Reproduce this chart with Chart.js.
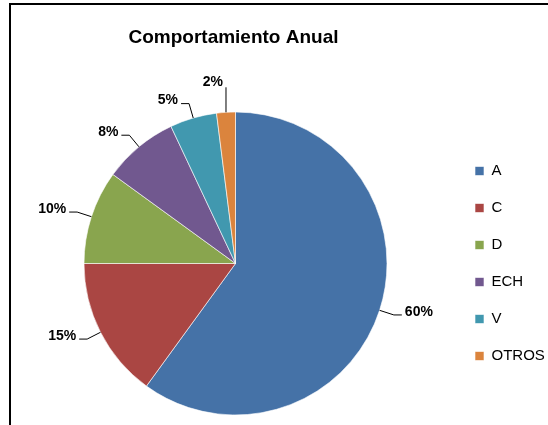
<!DOCTYPE html>
<html lang="es">
<head>
    <meta charset="UTF-8">
    <title>Comportamiento Anual</title>
    <style>
body {
    margin: 0;
    padding: 0;
    background-color: #fff;
    overflow: hidden;
}

#frame {
    position: absolute;
    left: 9px;
    top: 3px;
    width: 700px;
    height: 600px;
    border-top: 2px solid #000;
    border-left: 2px solid #000;
}

#chart-container {
    position: absolute;
    left: 0;
    top: 0;
    width: 548px;
    height: 425px;
}
    </style>
</head>
<body>
    <div id="frame"></div>
    <div id="chart-container">
        <canvas id="pieChart" width="548" height="425"></canvas>
    </div>

    <script src="https://cdn.jsdelivr.net/npm/chart.js"></script>
    <script>
        // Chart data
        const chartTitle = 'Comportamiento Anual';
        const categories = ['A', 'C', 'D', 'ECH', 'V', 'OTROS'];
        const values = [60, 15, 10, 8, 5, 2];
        const colors = ['#4572A7', '#AA4643', '#89A54E', '#71588F', '#4198AF', '#DB843D'];

        const FONT = "Arial, 'Liberation Sans', sans-serif";

        // Title drawn above the pie
        const titlePlugin = {
            id: 'pieTitle',
            afterDraw(chart) {
                const ctx = chart.ctx;
                const area = chart.chartArea;
                ctx.save();
                ctx.font = 'bold 19px ' + FONT;
                ctx.fillStyle = '#000';
                ctx.textAlign = 'center';
                ctx.textBaseline = 'middle';
                ctx.fillText(chartTitle, (area.left + area.right) / 2 - 2, 38);
                ctx.restore();
            }
        };

        // Percent labels with leader lines
        const leaderLabels = {
            id: 'leaderLabels',
            afterDatasetsDraw(chart) {
                const ctx = chart.ctx;
                const meta = chart.getDatasetMeta(0);
                const data = chart.data.datasets[0].data;
                const total = data.reduce((a, b) => a + b, 0);
                ctx.save();
                ctx.font = 'bold 14px ' + FONT;
                ctx.fillStyle = '#000';
                ctx.strokeStyle = '#000';
                ctx.lineWidth = 1;
                ctx.textBaseline = 'middle';
                meta.data.forEach((arc, i) => {
                    const mid = (arc.startAngle + arc.endAngle) / 2;
                    const cos = Math.cos(mid), sin = Math.sin(mid);
                    const r = arc.outerRadius;
                    const text = Math.round(data[i] / total * 100) + '%';
                    const x0 = arc.x + cos * r, y0 = arc.y + sin * r;
                    ctx.beginPath();
                    ctx.moveTo(x0, y0);
                    if (Math.abs(cos) < 0.15) {
                        // thin slice near the top: straight up
                        const y1 = y0 - 25;
                        ctx.lineTo(x0, y1);
                        ctx.stroke();
                        ctx.textAlign = 'right';
                        ctx.fillText(text, x0 - 3, y1 - 5);
                        return;
                    }
                    const x1 = arc.x + cos * (r + 15), y1 = arc.y + sin * (r + 15);
                    const dir = cos >= 0 ? 1 : -1;
                    const x2 = x1 + dir * 8;
                    ctx.lineTo(x1, y1);
                    ctx.lineTo(x2, y1);
                    ctx.stroke();
                    ctx.textAlign = dir > 0 ? 'left' : 'right';
                    ctx.fillText(text, x2 + dir * 3, y1 - 3);
                });
                ctx.restore();
            }
        };

        const ctx = document.getElementById('pieChart').getContext('2d');
        const chart = new Chart(ctx, {
            type: 'pie',
            data: {
                labels: categories,
                datasets: [{
                    data: values,
                    backgroundColor: colors,
                    borderColor: 'rgba(255, 255, 255, 0.6)',
                    borderWidth: 1,
                    hoverOffset: 0
                }]
            },
            options: {
                responsive: false,
                animation: false,
                layout: {
                    padding: { top: 111.5, bottom: 9.5, left: 18, right: 3 }
                },
                plugins: {
                    title: { display: false },
                    tooltip: { enabled: false },
                    legend: {
                        position: 'right',
                        maxWidth: 92,
                        labels: {
                            boxWidth: 9,
                            boxHeight: 9,
                            padding: 22,
                            color: '#000',
                            font: { family: FONT, size: 15 }
                        }
                    }
                }
            },
            plugins: [titlePlugin, leaderLabels]
        });
    </script>
</body>
</html>
